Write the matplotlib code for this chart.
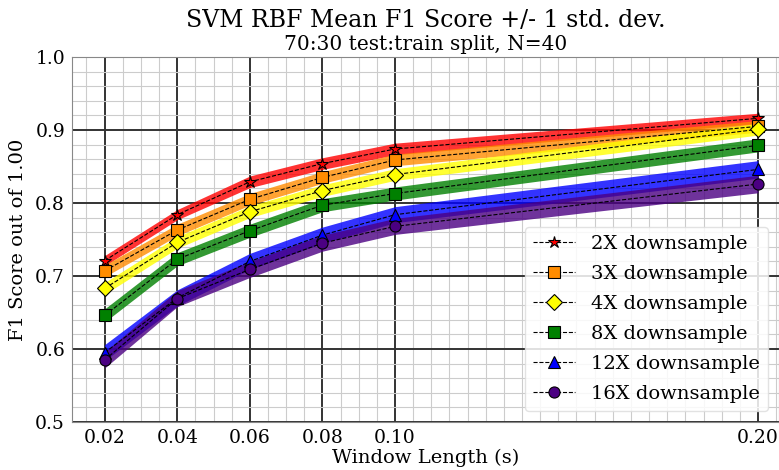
import matplotlib
matplotlib.use("Agg")
import matplotlib.pyplot as plt
import numpy as np
from matplotlib.ticker import MultipleLocator, FixedLocator

plt.rcParams['font.family'] = ['DejaVu Serif']

window = [0.02, 0.04, 0.06, 0.08, 0.10, 0.20]
labels = ["2X downsample", "3X downsample", "4X downsample", "8X downsample", "12X downsample", "16X downsample"]
f1_2x = [0.721, 0.784, 0.829, 0.854, 0.874, 0.916]
f1_3x = [0.707, 0.763, 0.805, 0.835, 0.859, 0.905]
f1_4x = [0.683, 0.746, 0.788, 0.817, 0.839, 0.901]
f1_8x = [0.646, 0.723, 0.762, 0.797, 0.813, 0.879]
f1_12x = [0.595, 0.670, 0.720, 0.756, 0.784, 0.846]
f1_16x = [0.585, 0.669, 0.709, 0.745, 0.768, 0.826]
std_2x = [0.007, 0.007, 0.008, 0.008, 0.008, 0.007]
std_3x = [0.008, 0.008, 0.008, 0.008, 0.008, 0.008]
std_4x = [0.008, 0.008, 0.008, 0.008, 0.008, 0.008]
std_8x = [0.009, 0.009, 0.009, 0.009, 0.009, 0.009]
std_12x = [0.011, 0.011, 0.011, 0.011, 0.011, 0.012]
std_16x = [0.011, 0.011, 0.011, 0.011, 0.011, 0.012]

series = [f1_2x, f1_3x, f1_4x, f1_8x, f1_12x, f1_16x]
stds = [std_2x, std_3x, std_4x, std_8x, std_12x, std_16x]
colors = ["red", "darkorange", "yellow", "green", "blue", "indigo"]
markers = ["*", "s", "D", "s", "^", "o"]
msizes = [9, 8, 8, 9, 8, 8]

fig = plt.figure(figsize=(7.79, 4.70), dpi=100)
ax = fig.add_axes([0.0924, 0.1021, 0.9076, 0.7766])

for y, s, c, m, ms, lab in zip(series, stds, colors, markers, msizes, labels):
    y = np.array(y); s = np.array(s)
    ax.fill_between(window, y - s, y + s, color=c, alpha=0.8, linewidth=0, zorder=2)
    ax.plot(window, y, linestyle='--', color='black', linewidth=0.8, marker=m,
            markersize=ms, markerfacecolor=c, markeredgecolor='black', markeredgewidth=0.8,
            label=lab, zorder=3)

ax.set_xlim(0.011, 0.2058)
ax.set_ylim(0.5, 1.0)
ax.xaxis.set_major_locator(FixedLocator(window))
ax.set_xticklabels(["0.02", "0.04", "0.06", "0.08", "0.10", "0.20"])
ax.xaxis.set_minor_locator(MultipleLocator(0.005))
ax.yaxis.set_major_locator(MultipleLocator(0.1))
ax.yaxis.set_minor_locator(MultipleLocator(0.02))
ax.grid(which='major', color='#333333', linewidth=1.4, zorder=1)
ax.grid(which='minor', color='#cccccc', linewidth=0.8, zorder=0)
ax.set_axisbelow(True)
ax.tick_params(axis='both', which='major', labelsize=13.5, length=0, pad=5)
ax.tick_params(axis='both', which='minor', length=0)
for sp in ax.spines.values():
    sp.set_color('#888888')

ax.set_xlabel("Window Length (s)", fontsize=14, labelpad=1)
ax.set_ylabel("F1 Score out of 1.00", fontsize=14, labelpad=6)
fig.text(0.546, 0.957, "SVM RBF Mean F1 Score +/- 1 std. dev.", ha='center', va='center', fontsize=17)
fig.text(0.546, 0.905, "70:30 test:train split, N=40", ha='center', va='center', fontsize=14.5)

leg = ax.legend(loc='lower right', bbox_to_anchor=(0.984, 0.03), borderaxespad=0,
                fontsize=14, framealpha=0.85, edgecolor='#dddddd',
                labelspacing=0.62, handlelength=2.2, handletextpad=0.8, borderpad=0.4)

fig.savefig("out.png", dpi=100)
